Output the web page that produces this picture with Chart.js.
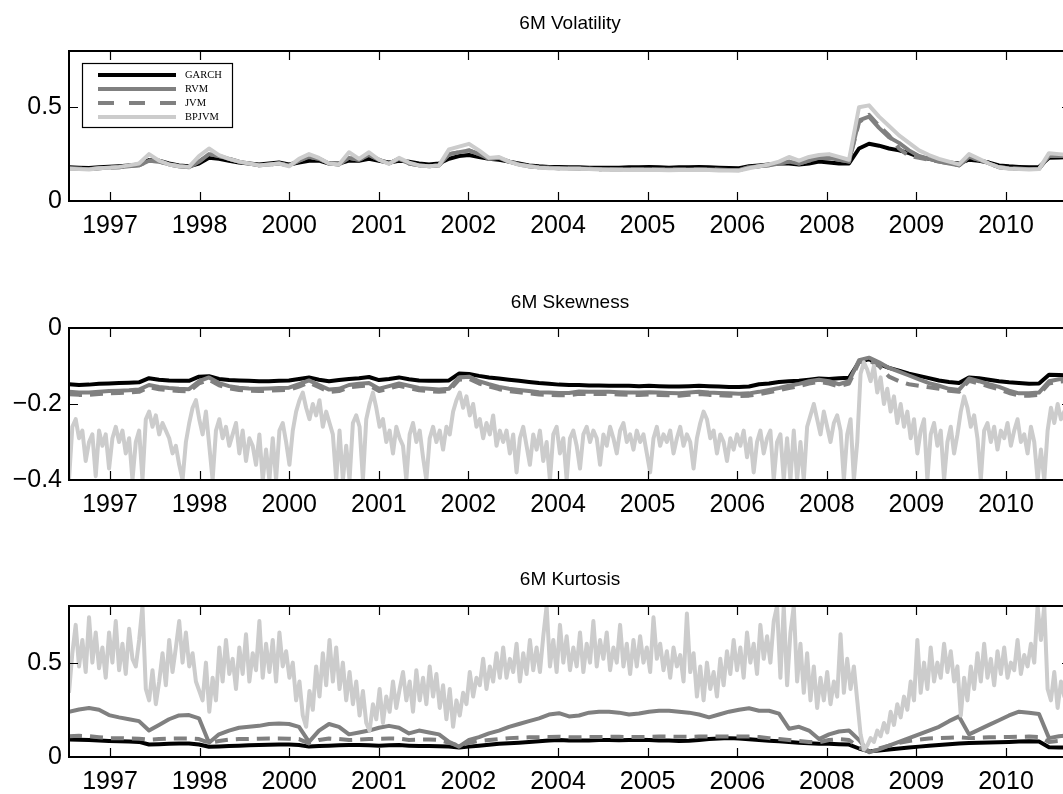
<!DOCTYPE html>
<html>
<head>
<meta charset="utf-8">
<script src="https://cdn.jsdelivr.net/npm/chart.js@4.4.0/dist/chart.umd.min.js"></script>
<style>
  html, body { margin: 0; padding: 0; background: #fff; overflow: hidden; }
  body { width: 1063px; height: 794px; position: relative; }
  canvas { position: absolute; left: 0; }
</style>
</head>
<body>
<canvas id="volChart" width="1100" height="246" style="top:0px"></canvas>
<canvas id="skewChart" width="1100" height="248" style="top:277px"></canvas>
<canvas id="kurtChart" width="1100" height="247" style="top:555px"></canvas>
<script>
// time axis (fractional years)
const xStart = 1996.832;
const xEnd = 2011.929;
const coarseStep = 0.15067;   // smooth model series
const fineStep = 0.050323;    // noisy BPJVM moments

const tickYears = [1997.45, 1998.8, 2000.15, 2001.5, 2002.85, 2004.2, 2005.55, 2006.9, 2008.25, 2009.6, 2010.95];
const tickLabels = ['1997', '1998', '2000', '2001', '2002', '2004', '2005', '2006', '2008', '2009', '2010'];

const modelNames = ['GARCH', 'RVM', 'JVM', 'BPJVM'];

// 6M volatility
const garchVol = [
  .18,.178,.176,.18,.183,.186,.19,.195,.218,.215,
  .2,.19,.185,.2,.23,.225,.215,.205,.2,.195,
  .2,.205,.195,.205,.215,.215,.2,.2,.215,.215,
  .225,.215,.205,.215,.21,.2,.195,.2,.225,.24,
  .245,.235,.225,.22,.21,.2,.19,.185,.182,.182,
  .18,.18,.178,.178,.177,.178,.18,.18,.182,.18,
  .178,.18,.18,.182,.18,.178,.176,.175,.185,.19,
  .195,.2,.2,.195,.2,.21,.205,.2,.2,.28,
  .305,.295,.28,.27,.255,.235,.225,.215,.205,.2,
  .22,.215,.205,.19,.185,.182,.18,.182,.23,.232,.235
];
const rvmVol = [
  .175,.172,.17,.175,.178,.18,.185,.19,.215,.21,
  .195,.185,.18,.21,.25,.24,.225,.21,.2,.19,
  .195,.2,.19,.215,.235,.225,.2,.195,.23,.22,
  .245,.22,.2,.225,.2,.19,.185,.19,.25,.26,
  .27,.25,.225,.23,.21,.195,.185,.18,.177,.175,
  .174,.173,.172,.17,.17,.17,.17,.17,.17,.168,
  .168,.168,.168,.17,.168,.167,.165,.165,.18,.185,
  .19,.2,.21,.2,.215,.23,.23,.22,.21,.43,
  .45,.39,.34,.31,.27,.24,.225,.21,.2,.19,
  .235,.22,.2,.18,.175,.172,.17,.172,.24,.24,.24
];
const jvmVol = [
  .175,.172,.17,.175,.178,.18,.185,.19,.215,.21,
  .195,.185,.18,.21,.25,.24,.225,.21,.2,.19,
  .195,.2,.19,.215,.235,.225,.2,.195,.23,.22,
  .245,.22,.2,.225,.2,.19,.185,.19,.25,.26,
  .27,.25,.225,.23,.21,.195,.185,.18,.177,.175,
  .174,.173,.172,.17,.17,.17,.17,.17,.17,.168,
  .168,.168,.168,.17,.168,.167,.165,.165,.18,.185,
  .19,.2,.21,.2,.215,.23,.23,.22,.21,.42,
  .46,.40,.35,.28,.24,.23,.22,.21,.2,.19,
  .235,.22,.2,.18,.175,.172,.17,.172,.24,.24,.24
];
const bpjvmVol = [
  .172,.17,.168,.175,.178,.182,.19,.2,.25,.215,
  .195,.185,.182,.24,.28,.245,.225,.21,.2,.19,
  .195,.2,.185,.225,.25,.23,.2,.195,.26,.225,
  .26,.22,.198,.23,.205,.19,.185,.19,.275,.29,
  .305,.27,.23,.235,.21,.193,.185,.178,.175,.174,
  .172,.172,.17,.168,.167,.166,.166,.165,.165,.165,
  .164,.165,.165,.166,.165,.163,.162,.162,.175,.185,
  .195,.21,.235,.215,.235,.245,.25,.235,.22,.5,
  .51,.45,.4,.35,.31,.27,.245,.225,.21,.195,
  .25,.225,.2,.18,.172,.17,.168,.17,.255,.25,.245
];

// 6M skewness
const garchSkew = [
  -.148,-.15,-.149,-.147,-.146,-.145,-.144,-.143,-.132,-.136,
  -.138,-.139,-.139,-.128,-.127,-.134,-.137,-.138,-.139,-.14,
  -.14,-.139,-.138,-.134,-.13,-.136,-.14,-.137,-.134,-.132,
  -.129,-.137,-.134,-.13,-.135,-.138,-.139,-.139,-.138,-.12,
  -.121,-.126,-.13,-.133,-.136,-.139,-.142,-.145,-.147,-.149,
  -.15,-.15,-.151,-.151,-.152,-.152,-.152,-.153,-.152,-.153,
  -.154,-.154,-.153,-.152,-.153,-.154,-.155,-.155,-.154,-.148,
  -.146,-.142,-.14,-.139,-.136,-.133,-.134,-.132,-.131,-.09,
  -.082,-.095,-.105,-.112,-.12,-.126,-.132,-.138,-.142,-.145,
  -.13,-.132,-.136,-.14,-.143,-.145,-.147,-.146,-.123,-.124,-.125
];
const rvmSkew = [
  -.168,-.17,-.17,-.168,-.166,-.165,-.164,-.162,-.15,-.155,
  -.158,-.16,-.161,-.14,-.13,-.145,-.153,-.157,-.159,-.16,
  -.159,-.158,-.157,-.148,-.138,-.15,-.162,-.16,-.15,-.147,
  -.145,-.16,-.153,-.146,-.152,-.158,-.16,-.162,-.16,-.13,
  -.128,-.14,-.148,-.155,-.16,-.163,-.166,-.169,-.17,-.171,
  -.171,-.167,-.168,-.168,-.168,-.169,-.17,-.17,-.169,-.17,
  -.171,-.172,-.17,-.168,-.17,-.171,-.172,-.173,-.172,-.168,
  -.163,-.158,-.152,-.147,-.14,-.136,-.14,-.148,-.14,-.085,
  -.078,-.09,-.105,-.115,-.125,-.135,-.145,-.152,-.16,-.163,
  -.133,-.14,-.148,-.155,-.165,-.172,-.172,-.17,-.14,-.135,-.133
];
const jvmSkew = [
  -.174,-.176,-.176,-.174,-.172,-.171,-.17,-.168,-.156,-.161,
  -.164,-.166,-.167,-.146,-.136,-.151,-.159,-.163,-.165,-.166,
  -.165,-.164,-.163,-.154,-.144,-.156,-.168,-.166,-.156,-.153,
  -.151,-.166,-.159,-.152,-.158,-.164,-.166,-.168,-.166,-.136,
  -.134,-.146,-.154,-.161,-.166,-.169,-.172,-.175,-.176,-.177,
  -.177,-.173,-.174,-.174,-.174,-.175,-.176,-.176,-.175,-.176,
  -.177,-.178,-.176,-.174,-.176,-.177,-.178,-.179,-.178,-.174,
  -.169,-.164,-.158,-.153,-.146,-.142,-.146,-.154,-.146,-.09,
  -.085,-.1,-.128,-.14,-.148,-.152,-.156,-.16,-.165,-.168,
  -.139,-.146,-.154,-.161,-.171,-.178,-.178,-.176,-.146,-.141,-.139
];
const bpjvmSkew = [
  -.40,-.26,-.24,-.29,-.27,-.35,-.30,-.28,-.39,-.27,
  -.31,-.28,-.37,-.29,-.26,-.30,-.27,-.33,-.29,-.40,
  -.30,-.27,-.40,-.24,-.22,-.26,-.23,-.28,-.25,-.27,
  -.29,-.33,-.31,-.36,-.40,-.30,-.25,-.21,-.19,-.24,
  -.28,-.22,-.31,-.40,-.27,-.24,-.29,-.26,-.31,-.28,
  -.25,-.33,-.27,-.35,-.29,-.31,-.36,-.28,-.40,-.32,
  -.40,-.29,-.40,-.27,-.25,-.30,-.36,-.27,-.22,-.19,
  -.17,-.21,-.24,-.20,-.23,-.19,-.26,-.22,-.25,-.28,
  -.40,-.27,-.40,-.31,-.40,-.25,-.23,-.26,-.40,-.24,
  -.20,-.17,-.21,-.26,-.24,-.30,-.27,-.33,-.26,-.29,
  -.31,-.40,-.28,-.25,-.30,-.27,-.34,-.40,-.29,-.26,
  -.30,-.27,-.32,-.26,-.28,-.22,-.19,-.17,-.21,-.18,
  -.23,-.20,-.26,-.24,-.29,-.25,-.28,-.23,-.31,-.27,
  -.30,-.27,-.33,-.28,-.38,-.29,-.26,-.31,-.36,-.28,
  -.32,-.27,-.35,-.30,-.40,-.28,-.26,-.33,-.29,-.40,
  -.29,-.27,-.31,-.37,-.28,-.26,-.30,-.27,-.29,-.36,
  -.28,-.31,-.26,-.29,-.33,-.27,-.25,-.30,-.28,-.32,
  -.27,-.30,-.28,-.33,-.38,-.29,-.26,-.31,-.28,-.30,
  -.27,-.33,-.29,-.26,-.31,-.28,-.30,-.37,-.29,-.25,
  -.22,-.24,-.29,-.27,-.33,-.28,-.30,-.35,-.29,-.32,
  -.28,-.31,-.27,-.34,-.29,-.38,-.30,-.27,-.33,-.29,
  -.27,-.40,-.30,-.28,-.40,-.29,-.40,-.27,-.40,-.30,
  -.40,-.26,-.23,-.20,-.24,-.28,-.22,-.26,-.30,-.25,
  -.23,-.27,-.40,-.28,-.24,-.40,-.30,-.12,-.09,-.11,
  -.14,-.10,-.17,-.13,-.20,-.16,-.22,-.18,-.25,-.20,
  -.26,-.22,-.29,-.24,-.33,-.27,-.24,-.40,-.28,-.25,
  -.31,-.27,-.40,-.30,-.26,-.33,-.28,-.22,-.18,-.21,
  -.26,-.23,-.29,-.40,-.27,-.25,-.30,-.26,-.32,-.27,
  -.29,-.25,-.31,-.27,-.24,-.30,-.28,-.33,-.26,-.30,
  -.40,-.32,-.40,-.27,-.21,-.25,-.20,-.24,-.22,-.26,
  -.24
];

// 6M kurtosis
const garchKurt = [
  .093,.092,.09,.088,.085,.083,.082,.08,.066,.068,
  .07,.072,.072,.066,.054,.056,.058,.06,.062,.064,
  .065,.066,.066,.064,.055,.058,.06,.062,.064,.063,
  .062,.06,.062,.063,.06,.058,.058,.057,.055,.05,
  .055,.06,.065,.07,.073,.076,.08,.083,.087,.09,
  .088,.087,.088,.09,.09,.089,.09,.092,.09,.088,
  .087,.085,.086,.09,.095,.098,.1,.098,.094,.09,
  .086,.083,.08,.076,.073,.07,.07,.068,.066,.045,
  .03,.035,.04,.045,.05,.055,.06,.064,.068,.072,
  .074,.076,.077,.078,.08,.082,.083,.082,.052,.05,.05
];
const rvmKurt = [
  .24,.252,.26,.25,.222,.21,.2,.19,.14,.17,
  .2,.22,.222,.205,.075,.12,.14,.155,.16,.165,
  .175,.178,.175,.16,.08,.14,.175,.16,.12,.13,
  .14,.155,.165,.155,.125,.14,.13,.12,.08,.055,
  .09,.105,.125,.14,.16,.175,.19,.205,.225,.232,
  .215,.22,.235,.24,.24,.235,.225,.23,.24,.245,
  .245,.24,.235,.225,.21,.225,.24,.25,.258,.245,
  .245,.23,.15,.16,.14,.095,.12,.135,.14,.09,
  .025,.04,.06,.08,.1,.12,.14,.16,.19,.215,
  .12,.145,.17,.195,.22,.24,.235,.228,.1,.11,.115
];
const jvmKurt = [
  .11,.112,.11,.105,.1,.1,.098,.097,.092,.095,
  .097,.098,.098,.095,.075,.085,.092,.095,.096,.097,
  .098,.098,.097,.095,.072,.09,.098,.095,.09,.092,
  .095,.097,.098,.097,.09,.092,.093,.09,.075,.06,
  .075,.085,.09,.095,.1,.102,.104,.105,.106,.107,
  .105,.105,.106,.106,.107,.107,.106,.106,.107,.108,
  .108,.107,.107,.108,.109,.109,.108,.108,.108,.106,
  .1,.095,.09,.085,.08,.078,.09,.095,.09,.05,
  .028,.045,.06,.075,.085,.092,.098,.1,.102,.104,
  .1,.102,.104,.105,.106,.107,.108,.106,.08,.085,.09
];
const bpjvmKurt = [
  .34,.55,.70,.48,.62,.45,.74,.50,.66,.47,
  .58,.42,.66,.50,.72,.46,.60,.44,.68,.52,
  .48,.62,.80,.36,.30,.46,.28,.40,.55,.38,
  .62,.45,.58,.72,.50,.66,.48,.55,.40,.35,
  .30,.50,.24,.42,.30,.58,.40,.62,.44,.52,
  .36,.58,.44,.65,.40,.55,.46,.72,.42,.60,
  .45,.62,.40,.66,.48,.56,.42,.50,.30,.40,
  .22,.16,.35,.25,.48,.32,.55,.38,.62,.40,
  .58,.36,.50,.30,.45,.28,.40,.22,.35,.18,
  .14,.28,.20,.36,.18,.32,.24,.40,.26,.36,
  .45,.30,.40,.24,.46,.30,.42,.28,.48,.32,
  .44,.26,.38,.20,.36,.16,.30,.22,.34,.28,
  .45,.32,.42,.38,.52,.36,.48,.40,.55,.42,
  .58,.42,.52,.45,.60,.40,.55,.44,.62,.46,
  .58,.45,.64,.80,.48,.62,.45,.70,.50,.64,
  .46,.58,.48,.66,.45,.60,.50,.72,.48,.62,
  .52,.66,.46,.58,.50,.70,.48,.60,.44,.62,
  .48,.64,.50,.58,.45,.74,.52,.60,.46,.56,
  .42,.58,.48,.54,.40,.76,.45,.55,.32,.48,
  .30,.50,.36,.45,.32,.52,.38,.56,.44,.62,
  .46,.58,.42,.66,.50,.60,.44,.70,.52,.64,
  .50,.72,.80,.42,.80,.38,.66,.80,.40,.60,
  .34,.55,.30,.48,.26,.42,.30,.45,.28,.40,
  .32,.65,.34,.52,.36,.48,.30,.12,.04,.06,
  .10,.08,.14,.11,.18,.13,.24,.17,.28,.21,
  .32,.25,.40,.30,.62,.34,.50,.36,.58,.40,
  .50,.42,.60,.45,.56,.40,.48,.22,.42,.30,
  .48,.36,.55,.40,.60,.42,.52,.38,.56,.44,
  .58,.42,.50,.46,.62,.44,.54,.48,.60,.50,
  .80,.62,.80,.36,.30,.45,.26,.40,.32,.42,
  .35
];

const sansFont = "'Liberation Sans', Arial, Helvetica, sans-serif";
const serifFont = "'Liberation Serif', 'Times New Roman', serif";

const lineStyles = {
  GARCH: { color: '#000000', dash: [], order: 3 },
  RVM:   { color: '#808080', dash: [], order: 2 },
  JVM:   { color: '#808080', dash: [13, 8], order: 1 },
  BPJVM: { color: '#cccccc', dash: [], order: 0 }
};

function toPoints(values, step) {
  return values.map((v, i) => ({ x: xStart + i * step, y: v }));
}

// box around the plot area with inward ticks on all four sides
const axesFrame = {
  id: 'axesFrame',
  afterDatasetsDraw(chart) {
    const { ctx, chartArea: a, scales: { x, y } } = chart;
    const len = 9;
    ctx.save();
    ctx.strokeStyle = '#000';
    ctx.lineWidth = 1.2;
    ctx.beginPath();
    x.ticks.forEach(t => {
      const px = Math.round(x.getPixelForValue(t.value)) + 0.5;
      ctx.moveTo(px, a.bottom); ctx.lineTo(px, a.bottom - len);
      ctx.moveTo(px, a.top); ctx.lineTo(px, a.top + len);
    });
    y.ticks.forEach(t => {
      const py = Math.round(y.getPixelForValue(t.value)) + 0.5;
      ctx.moveTo(a.left, py); ctx.lineTo(a.left + len, py);
      ctx.moveTo(a.right, py); ctx.lineTo(a.right - len, py);
    });
    ctx.stroke();
    ctx.lineWidth = 2;
    ctx.strokeRect(a.left, a.top, a.right - a.left, a.bottom - a.top);
    ctx.restore();
  }
};

// small framed legend in the upper-left corner of the axes
const boxLegend = {
  id: 'boxLegend',
  afterDraw(chart, args, opts) {
    if (!opts.show) return;
    const { ctx, chartArea: a } = chart;
    const bx = a.left + 13, by = a.top + 12, bw = 150, bh = 64;
    ctx.save();
    ctx.fillStyle = '#fff';
    ctx.fillRect(bx, by, bw, bh);
    ctx.strokeStyle = '#000';
    ctx.lineWidth = 1.2;
    ctx.strokeRect(bx + 0.5, by + 0.5, bw, bh);
    ctx.font = '10.5px ' + serifFont;
    ctx.textBaseline = 'middle';
    ctx.textAlign = 'left';
    chart.data.datasets.forEach((ds, i) => {
      const ry = by + 12 + i * 14;
      ctx.strokeStyle = ds.borderColor;
      ctx.lineWidth = 4;
      ctx.setLineDash(ds.borderDash.length ? [16, 15] : []);
      ctx.beginPath();
      ctx.moveTo(bx + 16, ry);
      ctx.lineTo(bx + 94, ry);
      ctx.stroke();
      ctx.setLineDash([]);
      ctx.fillStyle = '#000';
      ctx.fillText(ds.label, bx + 103, ry + 0.5);
    });
    ctx.restore();
  }
};

function makePanel(canvasId, title, titleShift, series, steps, yMin, yMax, yTicks, yLabels, showLegend) {
  const datasets = modelNames.map((name, k) => ({
    label: name,
    data: toPoints(series[k], steps[k]),
    borderColor: lineStyles[name].color,
    borderDash: lineStyles[name].dash,
    borderWidth: 4,
    borderJoinStyle: 'round',
    pointRadius: 0,
    tension: 0,
    fill: false,
    order: lineStyles[name].order
  }));

  return new Chart(document.getElementById(canvasId), {
    type: 'line',
    data: { datasets },
    plugins: [axesFrame, boxLegend],
    options: {
      responsive: false,
      animation: false,
      devicePixelRatio: 1,
      layout: { padding: { left: 0, right: 29, top: 0, bottom: 0 } },
      plugins: {
        legend: { display: false },
        tooltip: { enabled: false },
        title: {
          display: true,
          text: title,
          fullSize: false,
          color: '#000',
          font: { family: sansFont, size: 19, weight: 'normal', lineHeight: 1.2 },
          padding: { top: 11 + titleShift, bottom: 17.2 - titleShift }
        },
        boxLegend: { show: showLegend }
      },
      scales: {
        x: {
          type: 'linear',
          min: xStart,
          max: xEnd,
          grid: { display: false, drawTicks: false },
          border: { display: false },
          afterBuildTicks: s => { s.ticks = tickYears.map(v => ({ value: v })); },
          afterFit: s => { s.height = 45; },
          ticks: {
            autoSkip: false,
            maxRotation: 0,
            padding: 10,
            color: '#000',
            font: { family: sansFont, size: 25 },
            callback: (v, i) => tickLabels[i]
          }
        },
        y: {
          min: yMin,
          max: yMax,
          grid: { display: false, drawTicks: false },
          border: { display: false },
          afterBuildTicks: s => { s.ticks = yTicks.map(v => ({ value: v })); },
          afterFit: s => { s.width = 69; },
          ticks: {
            padding: 7,
            color: '#000',
            font: { family: sansFont, size: 25 },
            callback: (v, i) => yLabels[i]
          }
        }
      }
    }
  });
}

const coarse4 = [coarseStep, coarseStep, coarseStep, coarseStep];
const mixed4 = [coarseStep, coarseStep, coarseStep, fineStep];

makePanel('volChart', '6M Volatility', 1, [garchVol, rvmVol, jvmVol, bpjvmVol], coarse4,
  0, 0.8, [0, 0.5], ['0', '0.5'], true);
makePanel('skewChart', '6M Skewness', 3, [garchSkew, rvmSkew, jvmSkew, bpjvmSkew], mixed4,
  -0.4, 0, [-0.4, -0.2, 0], ['\u22120.4', '\u22120.2', '0'], false);
makePanel('kurtChart', '6M Kurtosis', 2, [garchKurt, rvmKurt, jvmKurt, bpjvmKurt], mixed4,
  0, 0.8, [0, 0.5], ['0', '0.5'], false);
</script>
</body>
</html>
